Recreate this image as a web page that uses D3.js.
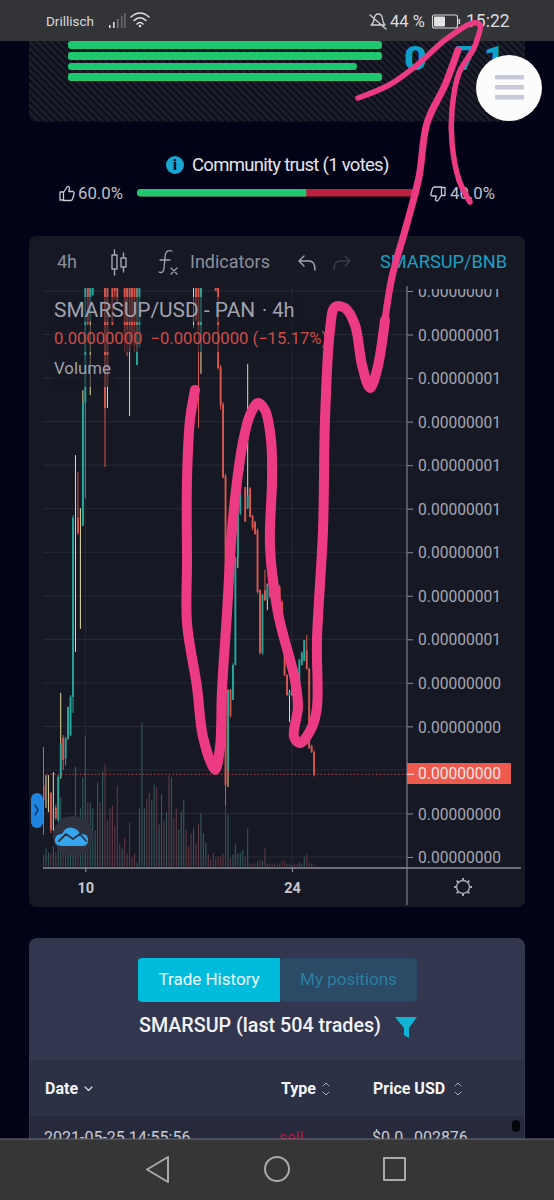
<!DOCTYPE html>
<html><head><meta charset="utf-8">
<script src="https://cdn.jsdelivr.net/npm/d3@7/dist/d3.min.js"></script>
<style>html,body{margin:0;padding:0;background:#020316}svg{display:block}text{font-family:Roboto,sans-serif}</style>
</head><body><svg id="c" width="554" height="1200" viewBox="0 0 554 1200"></svg>
<script>
// Price values are in units of 1e-9 USD. Candles above 13 run off the top of the pane and are estimates.
const candleOpen = [1.65,1.50,1.40,1.47,1.30,1.13,0.85,1.84,2.73,2.27, 2.73,2.80,3.68,7.80,7.79,7.60,7.63,10.43,13.6,12.33,
 12.9,14.3,15.0,15.6,15.2,14.5,14.6,14.6,14.5,14.0, 14.2,14.5,14.0,14.6,14.0,14.4,14.2,14.1,11.3,11.71,
 14.0,14.8,15.4,15.0,14.4,15.1,15.9,15.2,15.7,16.4, 16.0,16.6,15.4,16.2,15.7,15.0,15.5,16.0,16.5,15.8,
 15.2,13.6,14.4,14.2,11.6,14.0,14.6,15.2,14.8,14.3, 14.1,13.1,11.25,10.4,8.75,2.0,3.84,3.61,4.41,6.87,
 7.9,8.89,8.5,8.01,8.47,7.85,7.69,7.51,6.13,4.69, 6.13,5.9,6.25,6.3,6.45,6.4,6.2,5.85,5.21,4.18,
 3.7,3.72,4.48,4.3,3.9,4.41,4.5,4.75,4.32,2.55,2.41];
const candleClose = [1.31,1.50,1.40,0.62,1.30,0.90,1.84,2.62,2.23,2.73, 3.42,3.68,7.79,7.80,7.44,7.60,10.43,14.0,12.26,14.0,
 14.2,15.0,15.6,15.2,15.8,10.31,10.82,13.2,12.22,13.0, 12.75,14.0,14.6,11.87,12.1,11.64,11.87,11.76,11.6,14.0,
 14.8,15.4,15.0,14.4,15.1,15.9,15.2,15.7,16.4,16.0, 16.6,15.4,16.2,15.7,15.0,15.5,16.0,16.5,15.8,15.2,
 14.6,13.6,12.33,12.1,14.0,14.6,15.2,14.8,14.3,13.9, 13.0,11.23,10.38,8.71,1.65,3.79,3.24,4.41,6.87,7.9,
 8.89,9.81,7.7,8.31,7.81,7.56,7.42,6.09,4.69,6.02, 5.9,6.25,6.0,6.2,6.3,6.2,5.63,5.21,4.18,3.72,
 3.8,3.9,4.07,4.0,4.53,4.69,4.98,4.32,2.5,2.41,1.88];
const candleHigh = [2.53,1.88,1.88,1.50,1.95,1.20,1.88,3.77,2.80,2.76, 3.45,3.72,7.85,9.23,8.84,8.01,10.72,14.4,14.0,14.3,
 14.4,15.4,16.0,16.1,16.2,15.0,15.0,14.9,14.8,14.4, 14.5,14.8,14.9,14.8,14.2,14.6,14.5,14.4,14.0,14.4,
 15.2,15.8,15.9,15.3,15.5,16.3,16.2,16.0,16.8,16.7, 17.0,16.9,16.5,16.4,16.0,15.8,16.3,16.8,16.7,16.0,
 15.5,14.5,14.6,14.5,14.3,15.0,15.5,15.4,15.0,14.5, 14.3,13.3,11.3,10.45,8.8,3.85,3.86,4.45,6.9,7.95,
 9.0,9.9,8.5,11.32,8.5,7.8,7.72,7.55,6.15,6.05, 6.59,6.28,6.28,6.35,6.5,6.45,6.25,5.9,5.25,4.2,
 3.84,4.0,4.5,4.35,4.55,4.72,4.98,5.1,4.35,2.58,2.45];
const candleLow = [0.51,1.13,1.03,0.55,0.60,0.85,0.80,1.80,2.00,2.10, 2.70,2.78,3.31,4.71,7.40,5.24,7.60,8.24,12.2,10.61,
 12.9,14.0,14.8,15.0,15.0,8.96,10.31,13.1,12.2,12.79, 12.7,13.5,13.9,11.6,11.5,10.13,11.76,11.6,11.3,11.7,
 13.8,14.5,14.8,14.2,14.2,15.0,14.9,15.0,15.5,15.8, 15.9,15.1,15.2,15.5,14.8,14.8,15.3,15.8,15.5,15.0,
 14.3,12.15,12.3,9.85,11.1,13.8,14.4,14.5,14.1,13.5, 13.0,11.2,10.27,8.7,1.19,1.61,3.2,3.6,4.4,6.64,
 7.85,8.85,7.7,8.0,7.8,7.5,7.4,6.05,4.65,4.65, 5.88,5.67,5.95,6.15,6.25,6.15,5.6,5.2,4.15,3.7,
 3.1,3.7,4.05,3.95,3.88,4.4,4.5,4.3,2.48,2.39,1.85];
const wickTone = ['d','c','c','d','c','d','u','c','d','u', 'c','u','u','c','d','c','c','u','d','c',
 'u','u','u','d','u','d','c','d','d','d', 'd','d','u','d','d','c','d','d','c','u',
 'u','u','d','d','u','u','d','u','u','d', 'u','d','u','d','d','u','u','u','d','d',
 'd','c','d','d','c','u','u','d','d','d', 'd','d','d','d','d','c','d','u','u','c',
 'u','u','d','c','d','d','d','d','d','u', 'd','c','d','d','d','d','d','d','d','d',
 'c','u','d','d','u','u','c','d','d','d','d'];
const volumes = [12,18,14,13,20,14,20,69,30,25, 20,15,25,100,30,58,89,131,64,64,
 58,36,84,64,95,102,46,58,61,41, 81,23,18,29,13,44,9,13,4,58,
 144,58,68,74,66,82,79,42,72,46, 54,91,89,49,58,37,55,67,37,20,
 33,38,23,43,53,33,24,12,7,14, 8,10,10,13,62,52,8,12,22,13,
 14,17,10,38,3,2,3,5,7,6, 18,3,3,2,3,2,3,6,5,3,
 2,2,3,2,4,3,10,12,5,3,2];
const priceTicks = [0,1,2,3,4,5,6,7,8,9,10,11,12,13];
const priceLabelTicks = [0,1,3,4,5,6,7,8,9,10,11,12,13];
const lastPrice = 1.9;
const dateTickIndex = [17,101];
const dateTickLabels = ['10','24'];
const trustPct = [60,40];
const topBarPct = [100,100,92,100];

const PAL = {u:'#27a59b', d:'#d9574f', c:'#e6dca2'};
const svg = d3.select('#c');
const defs = svg.append('defs');
const hatch = defs.append('pattern').attr('id','hatch').attr('width',5).attr('height',5).attr('patternUnits','userSpaceOnUse').attr('patternTransform','rotate(45)');
hatch.append('rect').attr('width',5).attr('height',5).attr('fill','#1c1e2b');
hatch.append('rect').attr('width',5).attr('height',2).attr('fill','#0c0d17');
defs.append('clipPath').attr('id','pane').append('rect').attr('x',43).attr('y',288).attr('width',364).attr('height',580);
defs.append('clipPath').attr('id','topcard').append('rect').attr('x',0).attr('y',41).attr('width',554).attr('height',100);
defs.append('clipPath').attr('id','rowclip').append('rect').attr('x',0).attr('y',1116).attr('width',554).attr('height',23);
defs.append('clipPath').attr('id','labclip').append('rect').attr('x',400).attr('y',289).attr('width',125).attr('height',587);

const T=(x,y,s,size,fill,opt={})=>{const t=svg.append('text').attr('x',x).attr('y',y).attr('font-size',size).attr('fill',fill).text(s);
 Object.entries(opt).forEach(([k,v])=>t.attr(k,v));return t;};
const R=(x,y,w,h,fill,rx=0)=>svg.append('rect').attr('x',x).attr('y',y).attr('width',w).attr('height',h).attr('fill',fill).attr('rx',rx);
const P=(d,fill,stroke,sw=1,op=1)=>svg.append('path').attr('d',d).attr('fill',fill).attr('stroke',stroke).attr('stroke-width',sw).attr('opacity',op).attr('stroke-linecap','round').attr('stroke-linejoin','round');

R(0,0,554,1200,'#020316');
// top card
R(29,20,496,101.5,'url(#hatch)',7);
const barX=d3.scaleLinear().domain([0,100]).range([68,382]);
const barY=[41,52,63,73], barH=[8,8,7,8];
svg.append('g').selectAll('rect').data(topBarPct).join('rect').attr('x',68).attr('y',(d,i)=>barY[i]).attr('height',(d,i)=>barH[i])
 .attr('width',d=>barX(d)-68).attr('rx',3).attr('fill','#1fc76f');
const big=svg.append('g').attr('clip-path','url(#topcard)');
big.append('text').attr('transform','translate(404,70) scale(1.2,1)').attr('font-size',33).attr('font-weight',900).attr('fill','#0f9fcb').text('0');
big.append('text').attr('transform','translate(456,70) scale(1.1,1)').attr('font-size',33).attr('font-weight',900).attr('letter-spacing',6).attr('fill','#0f9fcb').text('71');

// community trust
svg.append('circle').attr('cx',175).attr('cy',165).attr('r',9).attr('fill','#19a6d1');
T(175,170,'i',14,'#03101e',{'text-anchor':'middle','font-weight':900});
T(192,171,'Community trust (1 votes)',18.5,'#e4e5ea',{'letter-spacing':'-0.72'});
const trustX=d3.scaleLinear().domain([0,100]).range([137,419]);
R(137,189,trustX(100)-137,7.5,'#bd1f3f',3.5);
R(137,189,trustX(trustPct[0])-137,7.5,'#1fc76f',3.5);
R(trustX(trustPct[0])-3,189,3,7.5,'#1fc76f');
const thumb='M0 6 h3.5 v8 h-3.5 z M3.5 6.5 L7 1 Q9 -0.5 9.5 2 L8.8 5.5 H13 Q14.6 6 14 8 L12.5 13 Q12 14.5 10.5 14.5 H3.5';
P(thumb,'none','#c9cbd2',1.3).attr('transform','translate(60,186)');
P(thumb,'none','#c9cbd2',1.3).attr('transform','translate(445,201.5) rotate(180)');
T(78,199,'60.0%',16.8,'#bfc1c9');
T(450,199,'40.0%',16.8,'#bfc1c9');

// chart card
R(29,236,496,671,'#161823',7);
T(57,268,'4h',18,'#8b8f9b');
P('M112 255h5v14h-5z M121 258h5v9h-5z M114.5 250v5 M114.5 269v6 M123.5 253v5 M123.5 267v5','none','#a3a6b0',1.4);
P('M172 251 Q165 249 165 258 L164 268 Q163.5 274 159 272 M160 260 H170','none','#a3a6b0',1.3);
P('M171 268 l6 6 M177 268 l-6 6','none','#a3a6b0',1.2);
T(190,268,'Indicators',18,'#8b8f9b');
P('M304 256 l-5 5 l5 5 M299 261 H309 Q315 261 315 270','none','#a3a6b0',1.4);
P('M345 256 l5 5 l-5 5 M350 261 H340 Q334 261 334 270','none','#3a3c47',1.4);
T(380,268,'SMARSUP/BNB',18.2,'#1e9fc2');

// scales
const y=d3.scaleLinear().domain([0,13]).range([857,291]);
const x=d3.scaleLinear().domain([0,148]).range([43.5,407.6]);
const yv=d3.scaleLinear().domain([0,150]).range([866.5,716.5]);
const idx=d3.range(candleOpen.length);

// grid
svg.append('g').selectAll('line').data(priceTicks).join('line').attr('x1',43).attr('x2',407).attr('y1',d=>y(d)).attr('y2',d=>y(d)).attr('stroke','#292b37');
svg.append('g').selectAll('line').data(dateTickIndex).join('line').attr('x1',d=>x(d)).attr('x2',d=>x(d)).attr('y1',288).attr('y2',868).attr('stroke','#282a36');

const pane=svg.append('g').attr('clip-path','url(#pane)');
pane.append('g').selectAll('line').data(idx).join('line').attr('x1',i=>x(i)).attr('x2',i=>x(i)).attr('y1',yv(0)).attr('y2',i=>yv(volumes[i]))
 .attr('stroke',i=>candleClose[i]<candleOpen[i]?'#5e3844':'#345a5c').attr('stroke-width',1.1);
pane.append('g').selectAll('line').data(idx).join('line').attr('x1',i=>x(i)).attr('x2',i=>x(i)).attr('y1',i=>y(candleHigh[i])).attr('y2',i=>y(candleLow[i]))
 .attr('stroke',i=>PAL[wickTone[i]]).attr('stroke-width',1);
pane.append('g').selectAll('rect').data(idx.filter(i=>candleOpen[i]!==candleClose[i])).join('rect')
 .attr('x',i=>x(i)-0.95).attr('width',1.9).attr('y',i=>y(Math.max(candleOpen[i],candleClose[i])))
 .attr('height',i=>Math.abs(y(candleOpen[i])-y(candleClose[i])))
 .attr('fill',i=>candleClose[i]<candleOpen[i]?PAL.d:PAL.u);
pane.append('line').attr('x1',43).attr('x2',407).attr('y1',y(lastPrice)).attr('y2',y(lastPrice)).attr('stroke','#c4494a').attr('stroke-dasharray','1.5 2.2');

// overlay legend with its translucent backing
R(50,297,250,25,'#161823').attr('opacity',.6);
R(50,325,280,27,'#161823').attr('opacity',.6);
R(50,355,65,32,'#161823').attr('opacity',.6);
T(54,317,'SMARSUP/USD - PAN',20.9,'#a0a3ae');
T(262,317,'· 4h',20,'#a0a3ae');
T(54,344,'0.00000000  −0.00000000 (−15.17%)',16.6,'#cf4d48').style('white-space','pre');
T(54,374,'Volume',16.8,'#9ea1ac');

// axes
const fmt=d3.format('.8f');
const ayWrap=svg.append('g').attr('clip-path','url(#labclip)');
const ay=ayWrap.append('g').attr('transform','translate(407,0)')
 .call(d3.axisRight(y).tickValues(priceLabelTicks).tickSize(6).tickPadding(5).tickFormat(d=>fmt(d*1e-9)));
ay.select('.domain').remove();
ay.selectAll('line').attr('stroke','#8b8e99');
ay.selectAll('text').attr('font-size',15.6).attr('fill','#a4a7b2').attr('font-family','Roboto').attr('dy','0.36em').attr('x',11);
svg.append('line').attr('x1',407).attr('x2',407).attr('y1',286).attr('y2',905).attr('stroke','#7d808c').attr('stroke-width',1.2);
R(407,763,104,21,'#ee5a4e');
svg.append('line').attr('x1',407).attr('x2',414).attr('y1',y(lastPrice)).attr('y2',y(lastPrice)).attr('stroke','#f4dede');
T(418,779,fmt(lastPrice*1e-9),15.6,'#f7e8e6');

const ax=svg.append('g').attr('transform','translate(0,868)')
 .call(d3.axisBottom(x).tickValues(dateTickIndex).tickSize(4).tickPadding(11).tickFormat((d,i)=>dateTickLabels[i]));
ax.select('.domain').remove();
ax.selectAll('line').attr('stroke','#9598a3');
ax.selectAll('text').attr('font-size',14.5).attr('font-weight',700).attr('fill','#c5c7cf').attr('font-family','Roboto');
svg.append('line').attr('x1',43).attr('x2',521).attr('y1',868).attr('y2',868).attr('stroke','#8b8e99').attr('stroke-width',1.3);
// settings gear
svg.append('circle').attr('cx',463).attr('cy',887).attr('r',6.5).attr('fill','none').attr('stroke','#a3a6b0').attr('stroke-width',1.4);
svg.append('g').selectAll('line').data(d3.range(0,360,45)).join('line').attr('x1',463).attr('x2',463).attr('y1',878).attr('y2',880.5)
 .attr('transform',d=>`rotate(${d} 463 887)`).attr('stroke','#a3a6b0').attr('stroke-width',2);

// side tab and logo
R(31,793,12,35,'#1e84e0',6);
P('M35 805 l3 5 l-3 5','none','#0b2a52',1.4);
svg.append('circle').attr('cx',73).attr('cy',836).attr('r',20).attr('fill','#2f323e');
P('M61 846 Q54 845 55 839 Q56 834 62 834 Q66 826 73 828 Q78 829 80 834 Q88 833 88 840 Q88 846 82 846 Z','#35a5ef','none');
P('M59 841 L66 834 L73 839 L80 834 L86 841','none','#2f323e',1.8);

// trade history card
R(29,938,496,220,'#32374f',8);
R(138,958,142,44,'#00bcdc',4);
R(276,958,4,44,'#00bcdc');
R(280,958,137,44,'#2b4a66',4);
T(209,985,'Trade History',17,'#eefbff',{'text-anchor':'middle'});
T(348.5,985,'My positions',17,'#2a7fa0',{'text-anchor':'middle'});
T(139,1032,'SMARSUP (last 504 trades)',19.7,'#f2f3f6',{'font-weight':500});
P('M395 1017 H417 L409 1028 V1038 L404 1035 V1028 Z','#11b3d6','none');
R(30,1060,494,56,'#2d3145');
R(30,1116,494,30,'#262a3c');
T(45,1094,'Date',16,'#f5f6f8',{'font-weight':700});
P('M85 1087 l3.5 3.5 l3.5 -3.5','none','#e6e7ea',1.1);
T(281,1094,'Type',16,'#f5f6f8',{'font-weight':700});
T(373,1094,'Price USD',16,'#f5f6f8',{'font-weight':700});
[326,458].forEach(a=>{P(`M${a-3} 1086 l3 -3 l3 3 M${a-3} 1092 l3 3 l3 -3`,'none','#a8abb6',1);});
const row=svg.append('g').attr('clip-path','url(#rowclip)');
[[44,'2021-05-25 14:55:56','#c9cbd2'],[279,'sell','#b01c46'],[372,'$0.0…002876','#c9cbd2']].forEach(d=>{
 row.append('text').attr('x',d[0]).attr('y',1143).attr('font-size',16).attr('fill',d[2]).text(d[1]);});
R(512,1120,8,12,'#05060c',4);

// nav and status bars
R(0,1139,554,61,'#363636');
R(0,1138.5,554,1,'#6f7076');
P('M168 1157 L147 1169.5 L168 1182 Z','none','#aaa',2);
svg.append('circle').attr('cx',277).attr('cy',1169).attr('r',12).attr('fill','none').attr('stroke','#aaa').attr('stroke-width',2);
P('M384 1158 H405 V1180 H384 Z','none','#aaa',2);
R(0,0,554,41,'#333438');
T(46,26,'Drillisch',13.5,'#d9d9dc');
[[109,3,'#ddd'],[113,6,'#ddd'],[117,9,'#777'],[121,12,'#666'],[124,15,'#666']].forEach(d=>R(d[0],28-d[1],1.6,d[1],d[2]));
['M131 17 Q140 9 149 17','M134 20.5 Q140 15 146 20.5','M137 24 Q140 21 143 24'].forEach(d=>P(d,'none','#e0e0e0',1.6));
svg.append('circle').attr('cx',140).attr('cy',26).attr('r',1.3).attr('fill','#e0e0e0');
P('M371 25 Q374 23 374 19 Q375 14 378 14 Q382 14 382.5 19 Q383 23 385 25 Z M370 15 L386 29','none','#d0d0d0',1.3);
T(390,27,'44 %',16.5,'#dcdcdf');
R(432.5,15,25,13,'none',2).attr('stroke','#d9d9d9').attr('stroke-width',1.1);
R(434,16.5,11,10,'#e4e4e6',1);
R(458.5,19,1.6,5,'#cfcfcf');
T(466,27,'15:22',17.5,'#dcdcdf');

// menu button
svg.append('circle').attr('cx',509).attr('cy',88).attr('r',33).attr('fill','#fcfcfd');
[75,85,95].forEach(b=>R(495,b,29,4.5,'#c6c9d7',1));

// hand-drawn annotation (not data)
const strokeA=[[195,390],[190,420],[187,480],[187,563],[187,623],[197,687],[203,737],[215,770],[220,747],[222,690],[227,613],[233,518],[243,442],[250,415],[258,403],[265,410],[271,440],[272,480],[270,547],[278,613],[295,680],[298,707],[294,737],[300,743],[312,727],[317,707],[317,640],[323,530],[325,420],[330,330],[335,307],[345,308],[355,325],[362,365],[370,388],[377,370],[385,320]];
const strokeB=[[385,320],[392,277],[406,227],[419,177],[427,123],[445,85],[458,50]];
const strokeC=[[358,98],[389,85],[417,65],[445,40],[473,23],[480,25],[477,40],[473,50],[459,73],[452,110],[452,143],[459,180],[470,202]];
const pen=d3.line().curve(d3.curveCatmullRom.alpha(.5));
[[strokeA,10],[strokeB,7],[strokeC,5.5]].forEach(d=>P(pen(d[0]),'none','#ec3b82',d[1]));
</script></body></html>
